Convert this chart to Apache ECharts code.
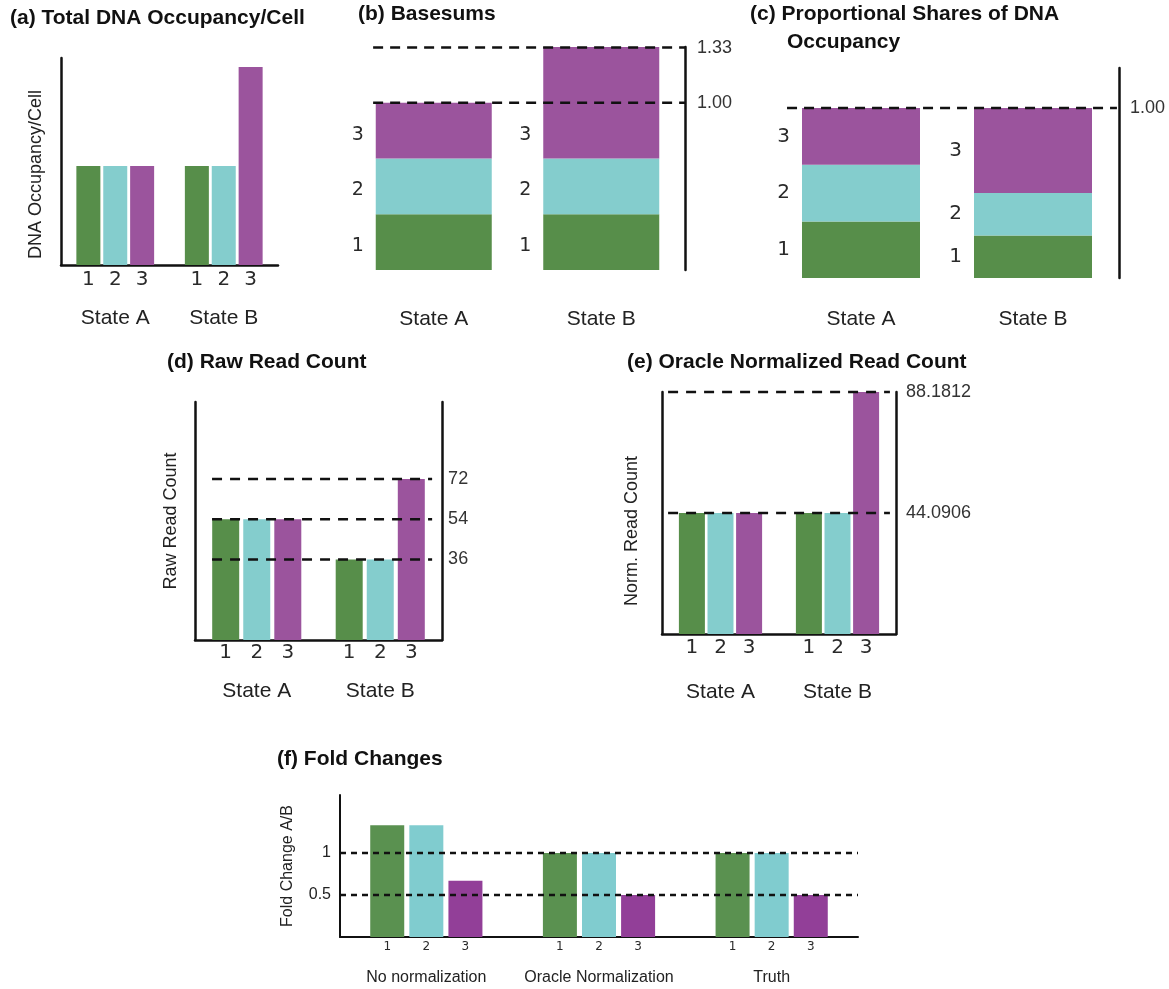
<!DOCTYPE html>
<html>
<head>
<meta charset="utf-8">
<script src="https://cdn.jsdelivr.net/npm/echarts@6/dist/echarts.min.js"></script>
<style>
  html, body { margin: 0; padding: 0; background: #fff; }
  #main { width: 1169px; height: 989px; }
</style>
</head>
<body>
<div id="main"></div>
<script>
// ---- data ----
const types = ['1', '2', '3'];
const states = ['State A', 'State B'];
const methods = ['No normalization', 'Oracle Normalization', 'Truth'];

// (a) total DNA occupancy per cell, by type
const occupancyA = [1, 1, 1];
const occupancyB = [1, 1, 2];

// (b) basesums, by type
const basesumA = [0.333, 0.333, 0.334];
const basesumB = [0.333, 0.333, 0.667];
const basesumGuides = [1.33, 1.00];

// (c) proportional shares of DNA occupancy, by type
const shareA = [0.333, 0.333, 0.334];
const shareB = [0.25, 0.25, 0.5];
const shareGuides = [1.00];

// (d) raw read count, by type
const rawA = [54, 54, 54];
const rawB = [36, 36, 72];
const rawGuides = [72, 54, 36];

// (e) oracle normalized read count, by type
const normA = [44.0906, 44.0906, 44.0906];
const normB = [44.0906, 44.0906, 88.1812];
const normGuides = [88.1812, 44.0906];

// (f) fold changes A/B, by method
const foldType1 = [1.33, 1, 1];
const foldType2 = [1.33, 1, 1];
const foldType3 = [0.67, 0.5, 0.5];
const foldGuides = [1, 0.5];
const foldTicks = [0.5, 1];

// ---- styling ----
const COLORS = ['#578e4a', '#84cdcd', '#9b549d'];
const FOLD_COLORS = ['#5a9150', '#80cccf', '#923f98'];
const INK = '#111';
const SANS = '"Liberation Sans", Arial, sans-serif';
const DIGITS = '"DejaVu Sans", Verdana, sans-serif';

const option = {
  animation: false,
  backgroundColor: '#fff',
  title: [],
  grid: [],
  xAxis: [],
  yAxis: [],
  series: []
};

function addTitle(text, left, top) {
  option.title.push({
    text, left, top, padding: 0,
    textStyle: { fontFamily: SANS, fontSize: 21, fontWeight: 'bold', color: INK }
  });
}

function byType(a, b) {
  return types.map((_, t) => [a[t], b[t]]);
}

// Label placement for each bar: under the bar, beside the segment centre,
// or beside the segment at a fixed rise above its lower edge.
function barLabel(p, t) {
  const base = {
    show: true, distance: p.labelDist, formatter: () => types[t],
    fontFamily: DIGITS, fontSize: p.digitFont, color: '#2a2a2a'
  };
  if (p.labelMode === 'under') return Object.assign(base, { position: 'bottom' });
  if (p.labelMode === 'side') return Object.assign(base, { position: 'left' });
  return Object.assign(base, {
    position: ['0%', '100%'], align: 'right', verticalAlign: 'middle',
    offset: [-p.labelDist, -p.labelRise]
  });
}

function panel(p) {
  const gi = option.grid.length;
  option.grid.push({
    left: p.box[0], top: p.box[1], width: p.box[2], height: p.box[3],
    outerBoundsMode: 'none', containLabel: false
  });

  const xi = option.xAxis.length;
  option.xAxis.push({
    type: 'category', gridIndex: gi, data: p.categories,
    axisLine: { show: !!p.baseLine, onZero: false, lineStyle: { color: INK, width: p.lineWidth } },
    axisTick: { show: false },
    axisLabel: { interval: 0, color: '#222', fontFamily: SANS, fontSize: p.catFont, margin: p.catMargin }
  });
  const gx = option.xAxis.length;
  option.xAxis.push({ type: 'value', gridIndex: gi, min: 0, max: 1, show: false });

  const yi = option.yAxis.length;
  option.yAxis.push({
    type: 'value', gridIndex: gi, min: 0, max: p.max,
    axisLine: { show: !!p.leftLine, lineStyle: { color: INK, width: p.lineWidth } },
    axisTick: { show: false },
    splitLine: { show: false },
    axisLabel: p.ticks
      ? { customValues: p.ticks, color: '#222', fontFamily: SANS, fontSize: 16, margin: 9 }
      : { show: false },
    name: p.yName || '',
    nameLocation: 'middle', nameRotate: 90, nameGap: p.nameGap || 0,
    nameTextStyle: {
      color: '#222', fontFamily: SANS, fontSize: p.nameFont || 16,
      padding: [0, p.nameShift || 0, 0, 0]
    }
  });
  if (p.rightLine) {
    option.yAxis.push({
      type: 'value', gridIndex: gi, position: 'right', min: 0, max: p.max,
      axisLine: { show: true, lineStyle: { color: INK, width: p.lineWidth } },
      axisTick: { show: false }, axisLabel: { show: false }, splitLine: { show: false }
    });
  }

  const colors = p.colors || COLORS;
  p.groups.forEach((vals, t) => {
    option.series.push({
      type: 'bar', name: types[t], xAxisIndex: xi, yAxisIndex: yi, data: vals,
      stack: p.stacked ? 'total' + gi : null,
      barWidth: p.barWidth, barGap: p.barGap || '0%',
      itemStyle: { color: colors[t] },
      label: barLabel(p, t),
      emphasis: { disabled: true },
      silent: true, clip: false
    });
  });

  (p.guides || []).forEach(v => {
    option.series.push({
      type: 'line', xAxisIndex: gx, yAxisIndex: yi,
      data: [[p.guideSpan[0], v], [p.guideSpan[1], v]],
      symbol: 'none', silent: true, z: 5, clip: false,
      lineStyle: { color: INK, width: p.guideWidth, type: p.guideDash },
      endLabel: {
        show: !!p.guideFormat,
        formatter: () => (p.guideFormat ? p.guideFormat(v) : ''),
        distance: p.guideLabelDist || 10,
        color: '#333', fontFamily: SANS, fontSize: 18
      }
    });
  });
}

// ---- panels ----
addTitle('(a) Total DNA Occupancy/Cell', 10, 8);
panel({
  box: [61, 58, 217, 207], max: 2.09, categories: states,
  groups: byType(occupancyA, occupancyB),
  baseLine: true, leftLine: true, lineWidth: 2.5,
  catFont: 21, catMargin: 43,
  barWidth: 24, barGap: '12%', labelMode: 'under', labelDist: 5, digitFont: 20,
  yName: 'DNA Occupancy/Cell', nameGap: 16, nameFont: 18, nameShift: 26
});

addTitle('(b) Basesums', 358, 4);
panel({
  box: [350, 47, 335, 223], max: 4 / 3, categories: states,
  groups: byType(basesumA, basesumB), stacked: true,
  rightLine: true, lineWidth: 2.5,
  catFont: 21, catMargin: 39,
  barWidth: 116, labelMode: 'rise', labelDist: 12, labelRise: 24, digitFont: 19,
  guides: basesumGuides, guideSpan: [0.069, 1], guideWidth: 2.5, guideDash: [10, 7],
  guideFormat: v => v.toFixed(2), guideLabelDist: 12
});

addTitle('(c) Proportional Shares of DNA', 750, 4);
addTitle('Occupancy', 787, 32);
panel({
  box: [775, 68, 344, 210], max: 1.235, categories: states,
  groups: byType(shareA, shareB), stacked: true,
  rightLine: true, lineWidth: 2.5,
  catFont: 21, catMargin: 31,
  barWidth: 118, labelMode: 'side', labelDist: 12, digitFont: 20,
  guides: shareGuides, guideSpan: [0.035, 0.994], guideWidth: 2.5, guideDash: [10, 7],
  guideFormat: v => v.toFixed(2), guideLabelDist: 13
});

addTitle('(d) Raw Read Count', 167, 352);
panel({
  box: [195, 402, 247, 238], max: 106.4, categories: states,
  groups: byType(rawA, rawB),
  baseLine: true, leftLine: true, rightLine: true, lineWidth: 2.5,
  catFont: 21, catMargin: 41,
  barWidth: 27, barGap: '15%', labelMode: 'under', labelDist: 3, digitFont: 20,
  yName: 'Raw Read Count', nameGap: 15, nameFont: 18,
  guides: rawGuides, guideSpan: [0.069, 0.96], guideWidth: 2.5, guideDash: [10, 8],
  guideFormat: v => String(v), guideLabelDist: 16
});

addTitle('(e) Oracle Normalized Read Count', 627, 352);
panel({
  box: [662, 392, 234, 242], max: 88.1812, categories: states,
  groups: byType(normA, normB),
  baseLine: true, leftLine: true, rightLine: true, lineWidth: 2.5,
  catFont: 21, catMargin: 48,
  barWidth: 26, barGap: '10%', labelMode: 'under', labelDist: 4, digitFont: 20,
  yName: 'Norm. Read Count', nameGap: 21, nameFont: 18, nameShift: 36,
  guides: normGuides, guideSpan: [0.026, 0.974], guideWidth: 2.5, guideDash: [10, 8],
  guideFormat: v => v.toFixed(4), guideLabelDist: 16
});

addTitle('(f) Fold Changes', 277, 749);
panel({
  box: [340, 795, 518, 142], max: 1.69, categories: methods,
  groups: [foldType1, foldType2, foldType3], colors: FOLD_COLORS,
  baseLine: true, leftLine: true, lineWidth: 2,
  catFont: 16, catMargin: 33, ticks: foldTicks,
  barWidth: 34, barGap: '15%', labelMode: 'under', labelDist: 4, digitFont: 12,
  yName: 'Fold Change A/B', nameGap: 44, nameFont: 16,
  guides: foldGuides, guideSpan: [0, 1], guideWidth: 2.5, guideDash: [6, 5]
});

const chart = echarts.init(document.getElementById('main'));
chart.setOption(option);
</script>
</body>
</html>
